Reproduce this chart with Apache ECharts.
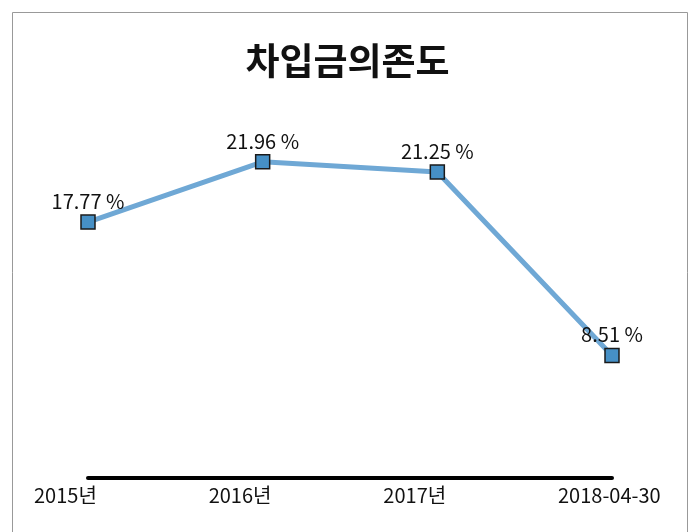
<!DOCTYPE html>
<html>
<head>
<meta charset="utf-8">
<style>
  html, body { margin: 0; padding: 0; background: #fff; }
  #main { width: 695px; height: 532px; }
</style>
<script src="https://cdn.jsdelivr.net/npm/echarts@6/dist/echarts.min.js"></script>
</head>
<body>
<div id="main"></div>
<script>
var categories = ['2015년', '2016년', '2017년', '2018-04-30'];
var ratioValues = [17.77, 21.96, 21.25, 8.51];

var chart = echarts.init(document.getElementById('main'));
var fontName = '"Noto Sans CJK KR", sans-serif';

var option = {
    backgroundColor: '#fff',
    title: {
        text: '차입금의존도',
        left: 'center',
        top: 37,
        textStyle: {
            fontFamily: fontName,
            fontSize: 37,
            fontWeight: 'bold',
            color: '#111'
        }
    },
    graphic: [{
        type: 'rect',
        shape: { x: 12.5, y: 12.5, width: 675, height: 540 },
        style: { fill: 'none', stroke: '#999', lineWidth: 1 },
        silent: true
    }],
    grid: {
        left: 88,
        right: 83,
        top: 118,
        bottom: 54
    },
    xAxis: {
        type: 'category',
        boundaryGap: false,
        data: categories,
        axisLine: { show: true, lineStyle: { color: '#000', width: 4 } },
        axisTick: { show: false },
        axisLabel: {
            interval: 0,
            margin: 7,
            align: 'center',
            formatter: function (v) { return '{a|' + v + '}'; },
            rich: {
                a: {
                    width: 108,
                    align: 'left',
                    fontFamily: fontName,
                    fontSize: 20,
                    color: '#111'
                }
            }
        },
        splitLine: { show: false }
    },
    yAxis: {
        type: 'value',
        min: 0,
        max: 25,
        show: false,
        splitLine: { show: false }
    },
    series: [{
        type: 'line',
        data: ratioValues,
        symbol: 'rect',
        symbolSize: 14,
        lineStyle: { color: '#6fa8d5', width: 5 },
        itemStyle: { color: '#4690c6', borderColor: '#1a1a1a', borderWidth: 1.5 },
        label: {
            show: true,
            position: 'top',
            distance: 3,
            formatter: function (p) { return p.value.toFixed(2) + ' %'; },
            fontFamily: fontName,
            fontSize: 20,
            color: '#111'
        },
        animation: false
    }]
};
chart.setOption(option);
</script>
</body>
</html>
